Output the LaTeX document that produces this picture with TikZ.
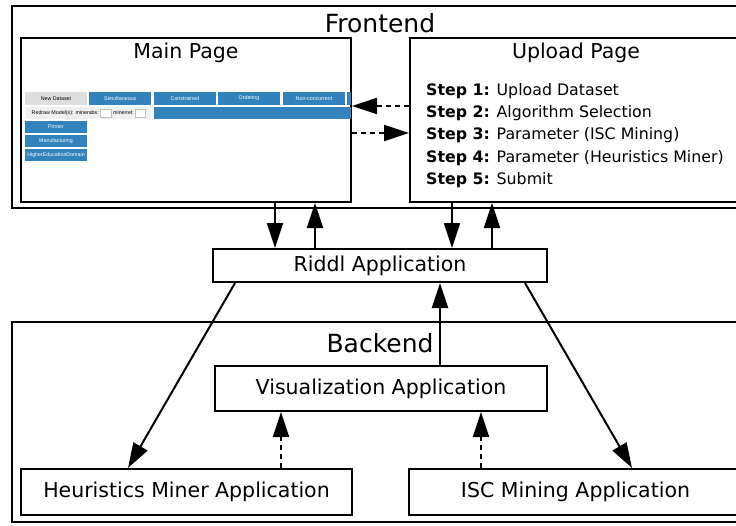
\documentclass[tikz,border=0pt]{standalone}
\usepackage{fontspec}
\setmainfont{DejaVu Sans}
\newfontfamily\shotfont{Liberation Sans}
\usetikzlibrary{arrows.meta}
\definecolor{tabblue}{HTML}{3182BD}
\definecolor{tabgray}{HTML}{DEDEDE}
\definecolor{rowgray}{HTML}{F0F0F0}
\tikzset{
  frame/.style={draw=black, line width=2.8pt, inner sep=0pt},
  pagebox/.style={draw=black, line width=2pt, inner sep=0pt},
  appbox/.style={draw=black, line width=2pt, inner sep=0pt,
    font=\fontsize{20.5}{24}\selectfont},
  bigtitle/.style={inner sep=0pt, font=\fontsize{25}{30}\selectfont},
  pagetitle/.style={inner sep=0pt, font=\fontsize{20.5}{24}\selectfont},
  tab/.style={fill=tabblue, text=white, inner sep=0pt, minimum width=62pt,
    minimum height=12.5pt, font=\shotfont\fontsize{5.3}{6}\selectfont},
  shottext/.style={inner sep=0pt, font=\shotfont\fontsize{5.3}{6}\selectfont},
  flow/.style={line width=2pt, -{Triangle[length=25pt,width=16pt]}},
  dflow/.style={flow, dash pattern=on 5pt off 4pt},
}

\begin{document}
\begin{tikzpicture}[x=1pt, y=-1pt]
    \useasboundingbox (0,0) rectangle (736,525);
    \clip (0,0) rectangle (736,525);
    % frontend
    \node[frame, minimum width=736pt, minimum height=202pt] (front) at (380,107) {};
    \node[bigtitle] (tfront) at (380,23) {Frontend};
    \node[pagebox, minimum width=330pt, minimum height=164pt] (main) at (186,120) {};
    \node[pagetitle] (tmain) at (186,53) {Main Page};
    \node[pagebox, minimum width=332pt, minimum height=164pt] (upload) at (576,120) {};
    \node[pagetitle] (tupload) at (576,53) {Upload Page};
    % screenshot of the main page
    \node[shottext, fill=tabgray, minimum width=62pt, minimum height=13pt] (newds) at (56,98.3) {New Dataset};
    \node[tab] (simul) at (120.3,98.3) {Simultaneous};
    \node[tab] (constr) at (185,98.3) {Constrained};
    \node[tab] (order) at (249,98.3) {Ordering};
    \node[tab] (noncon) at (314,98.3) {Non-concurrent};
    \node[tab, minimum width=4pt] (sliver) at (349,98.3) {};
    \node[fill=rowgray, inner sep=0pt, minimum width=126pt, minimum height=11.7pt] (redraw) at (88,113) {};
    \node[tab, minimum width=197pt, minimum height=11.7pt] (bar) at (252.5,113) {};
    \node[shottext, anchor=east] (tminerabs) at (99,113) {Redraw Model(s): minerabs:};
    \node[draw=black!25, fill=white, inner sep=0pt, minimum width=11pt, minimum height=8pt] (inabs) at (105.5,113) {};
    \node[shottext, anchor=east] (tminerrel) at (134,113) {minerrel:};
    \node[draw=black!25, fill=white, inner sep=0pt, minimum width=10pt, minimum height=8pt] (inrel) at (140,113) {};
    \node[tab] (printer) at (56,127) {Printer};
    \node[tab] (manuf) at (56,141) {Manufacturing};
    \node[tab] (higher) at (56,155) {HigherEducationDomain};
    % upload steps
    \node[anchor=west, align=left, inner sep=0pt, font=\fontsize{15.8}{22.2}\selectfont] (steps) at (426,135.5) {%
        \textbf{Step 1:} Upload Dataset\\
        \textbf{Step 2:} Algorithm Selection\\
        \textbf{Step 3:} Parameter (ISC Mining)\\
        \textbf{Step 4:} Parameter (Heuristics Miner)\\
        \textbf{Step 5:} Submit};
    % riddl
    \node[appbox, minimum width=334pt, minimum height=33pt] (riddl) at (380,265.5) {Riddl Application};
    % backend
    \node[frame, minimum width=736pt, minimum height=200pt] (back) at (380,422) {};
    \node[bigtitle] (tback) at (380,343) {Backend};
    \node[appbox, minimum width=332pt, minimum height=45pt] (vis) at (381,388.5) {Visualization Application};
    \node[appbox, minimum width=331pt, minimum height=46pt] (heur) at (186.5,492) {Heuristics Miner Application};
    \node[appbox, minimum width=333pt, minimum height=46pt] (isc) at (575.5,492) {ISC Mining Application};
    % connectors
    \draw[flow] (main.south -| 275,0) -- (riddl.north -| 275,0);
    \draw[flow] (riddl.north -| 315,0) -- (main.south -| 315,0);
    \draw[flow] (upload.south -| 452,0) -- (riddl.north -| 452,0);
    \draw[flow] (riddl.north -| 492,0) -- (upload.south -| 492,0);
    \draw[flow] (vis.north -| 440,0) -- (riddl.south -| 440,0);
    \draw[flow] (riddl.south -| 235,0) -- (heur.north -| 128,0);
    \draw[flow] (riddl.south -| 525,0) -- (isc.north -| 632,0);
    \draw[dflow] (heur.north -| 281,0) -- (vis.south -| 281,0);
    \draw[dflow] (isc.north -| 481,0) -- (vis.south -| 481,0);
    \draw[dflow] (upload.west |- 0,106) -- (main.east |- 0,106);
    \draw[dflow] (main.east |- 0,133) -- (upload.west |- 0,133);
\end{tikzpicture}
\end{document}
